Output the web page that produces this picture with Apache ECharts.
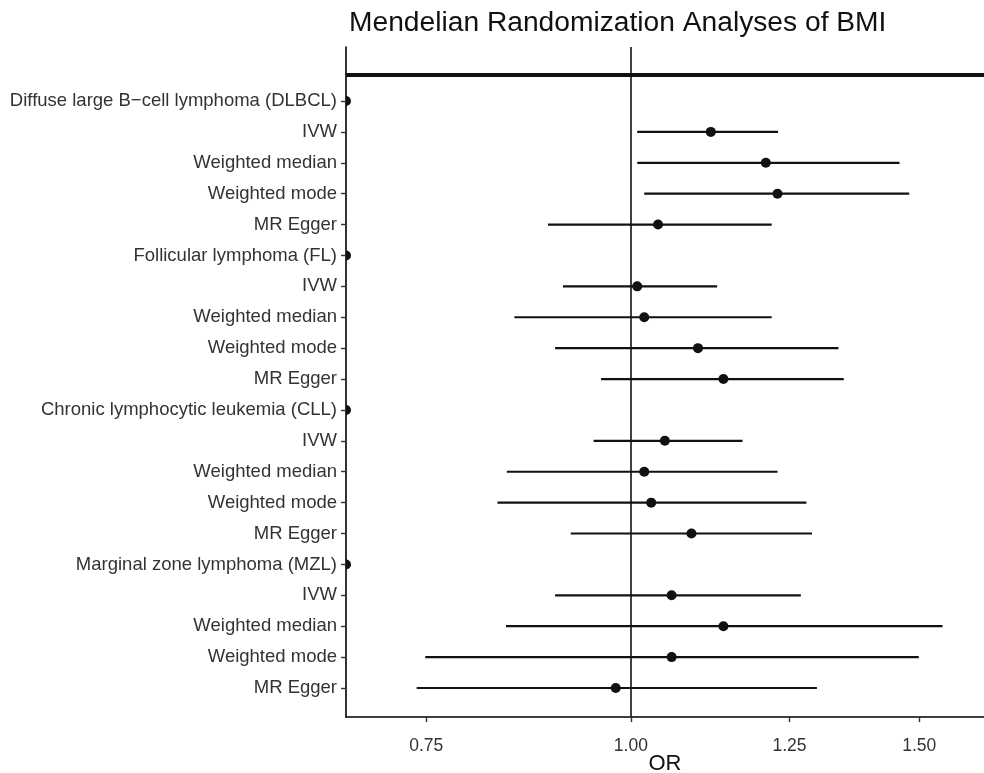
<!DOCTYPE html>
<html>
<head>
<meta charset="utf-8">
<script src="https://cdn.jsdelivr.net/npm/echarts@6.0.0/dist/echarts.min.js"></script>
<style>
html,body{margin:0;padding:0;background:#ffffff;}
#chart{width:984px;height:773px;}
</style>
</head>
<body>
<div id="chart"></div>
<script>
// ---- data ----
const rowLabels = [
  "Diffuse large B\u2212cell lymphoma (DLBCL)", "IVW", "Weighted median", "Weighted mode", "MR Egger",
  "Follicular lymphoma (FL)", "IVW", "Weighted median", "Weighted mode", "MR Egger",
  "Chronic lymphocytic leukemia (CLL)", "IVW", "Weighted median", "Weighted mode", "MR Egger",
  "Marginal zone lymphoma (MZL)", "IVW", "Weighted median", "Weighted mode", "MR Egger"
];
const orValues = [0.670, 1.119, 1.209, 1.229, 1.039,
                  0.670, 1.009, 1.019, 1.099, 1.139,
                  0.670, 1.049, 1.019, 1.029, 1.089,
                  0.670, 1.059, 1.139, 1.059, 0.979];
const lowerCI  = [null, 1.009, 1.009, 1.019, 0.890,
                  null, 0.909, 0.849, 0.899, 0.959,
                  null, 0.949, 0.840, 0.829, 0.919,
                  null, 0.899, 0.839, 0.749, 0.740];
const upperCI  = [null, 1.230, 1.459, 1.479, 1.219,
                  null, 1.129, 1.219, 1.339, 1.349,
                  null, 1.170, 1.229, 1.280, 1.290,
                  null, 1.270, 1.550, 1.499, 1.299];
const xTicks = [0.75, 1.00, 1.25, 1.50];
const xRange = [0.670, 1.643];
const nullEffect = 1.00;

// ---- build ----
const ln = Math.log;
const seriesData = orValues.map((v, i) => [
  ln(v), i,
  lowerCI[i] == null ? null : ln(lowerCI[i]),
  upperCI[i] == null ? null : ln(upperCI[i])
]);
const rowIdx = rowLabels.map((_, i) => i);
const FONT = 'Liberation Sans';

const chart = echarts.init(document.getElementById('chart'), null, {renderer: 'canvas'});
const option = {
  backgroundColor: '#ffffff',
  animation: false,
  title: {
    text: 'Mendelian Randomization Analyses of BMI',
    left: 344, top: 4,
    textStyle: {fontFamily: FONT, fontSize: 28.2, fontWeight: 'normal', color: '#111111'}
  },
  grid: {left: 346, right: 0, top: 47, bottom: 56, containLabel: false, outerBoundsMode: 'none'},
  xAxis: {
    type: 'value',
    min: ln(xRange[0]), max: ln(xRange[1]),
    name: 'OR', nameLocation: 'middle', nameGap: 36, nameMoveOverlap: false,
    nameTextStyle: {fontFamily: FONT, fontSize: 22, color: '#111111'},
    axisLine: {show: true, onZero: false, lineStyle: {color: '#000000', width: 1.6}},
    axisTick: {show: true, length: 5, customValues: xTicks.map(ln), lineStyle: {color: '#333333', width: 1.4}},
    axisLabel: {
      customValues: xTicks.map(ln), margin: 20,
      formatter: v => Math.exp(v).toFixed(2),
      fontFamily: FONT, fontSize: 17.5, color: '#333333'
    },
    splitLine: {show: false}
  },
  yAxis: {
    type: 'value', inverse: true,
    min: -1.748, max: 19.939,
    axisLine: {show: true, onZero: false, lineStyle: {color: '#000000', width: 1.6}},
    axisTick: {show: true, length: 5, customValues: rowIdx, lineStyle: {color: '#333333', width: 1.4}},
    axisLabel: {
      customValues: rowIdx, margin: 9,
      formatter: v => rowLabels[Math.round(v)] || '',
      fontFamily: FONT, fontSize: 18.5, color: '#333333'
    },
    splitLine: {show: false}
  },
  series: [{
    type: 'custom',
    clip: true,
    data: seriesData,
    encode: {x: [0, 2, 3], y: 1},
    renderItem: function (params, api) {
      const children = [];
      const lo = api.value(2), hi = api.value(3);
      const y = api.value(1);
      if (lo != null && !isNaN(lo) && hi != null && !isNaN(hi)) {
        const p1 = api.coord([lo, y]);
        const p2 = api.coord([hi, y]);
        children.push({
          type: 'line',
          shape: {x1: p1[0], y1: p1[1], x2: p2[0], y2: p2[1]},
          style: {stroke: '#111111', lineWidth: 2.2}
        });
      }
      const c = api.coord([api.value(0), y]);
      children.push({
        type: 'circle',
        shape: {cx: c[0], cy: c[1], r: 5},
        style: {fill: '#111111'}
      });
      return {type: 'group', children: children};
    },
    markLine: {
      silent: true, symbol: 'none', label: {show: false},
      data: [
        {xAxis: ln(nullEffect), lineStyle: {color: '#111111', width: 1.6, type: 'solid'}},
        {yAxis: -0.842, lineStyle: {color: '#111111', width: 4, type: 'solid'}}
      ]
    }
  }]
};
chart.setOption(option);
</script>
</body>
</html>
